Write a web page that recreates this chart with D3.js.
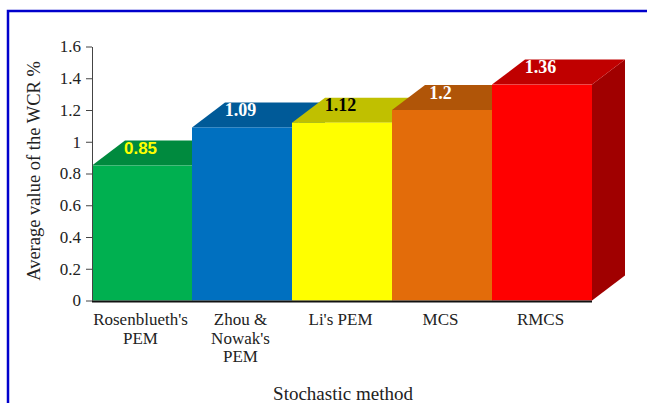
<!DOCTYPE html>
<html>
<head>
<meta charset="utf-8">
<script src="https://cdn.jsdelivr.net/npm/d3@7"></script>
<style>
  html, body { margin: 0; padding: 0; background: #fff; }
  svg { display: block; }
</style>
</head>
<body>
<div id="chart"></div>
<script>
// Average WCR per stochastic method
const categories = ["Rosenblueth's PEM", "Zhou & Nowak's PEM", "Li's PEM", "MCS", "RMCS"];
const categoryLines = [["Rosenblueth's", "PEM"], ["Zhou &", "Nowak's", "PEM"], ["Li's PEM"], ["MCS"], ["RMCS"]];
const wcrValues = [0.85, 1.09, 1.12, 1.2, 1.36];
const valueLabels = ["0.85", "1.09", "1.12", "1.2", "1.36"];
const tickValues = [0, 0.2, 0.4, 0.6, 0.8, 1, 1.2, 1.4, 1.6];
const tickLabels = ["0", "0.2", "0.4", "0.6", "0.8", "1", "1.2", "1.4", "1.6"];

// face colours: front, top, side
const frontColors = ["#00b050", "#0070c0", "#ffff00", "#e36c0a", "#ff0000"];
const topColors = ["#008a3e", "#005a98", "#c0c000", "#b05508", "#c00000"];
const sideColors = ["#007a34", "#004f86", "#a8a800", "#984a06", "#a00000"];
const labelColors = ["#ffff00", "#ffffff", "#000000", "#ffffff", "#ffffff"];

const W = 647, H = 403;
const serif = "'Liberation Serif', 'Times New Roman', serif";
const depthX = 33, depthY = 25;

const svg = d3.select("#chart").append("svg")
  .attr("width", W).attr("height", H);

// frame
svg.append("rect")
  .attr("x", 8).attr("y", 11)
  .attr("width", 800).attr("height", 600)
  .attr("fill", "none").attr("stroke", "#0000cc").attr("stroke-width", 2.5);

const x = d3.scaleBand().domain(categories).range([92, 592]).padding(0);
const y = d3.scaleLinear().domain([0, 1.6]).range([300.5, 46.5]);

const data = categories.map((c, i) => ({ c, v: wcrValues[i], i }));
const bw = x.bandwidth();

const bars = svg.append("g");
data.forEach(d => {
  const x0 = x(d.c), x1 = x0 + bw, yT = y(d.v), yB = y(0);
  const g = bars.append("g");
  // right side face
  g.append("path")
    .attr("d", `M${x1},${yT}L${x1 + depthX},${yT - depthY}L${x1 + depthX},${yB - depthY}L${x1},${yB}Z`)
    .attr("fill", sideColors[d.i]);
  // top face
  g.append("path")
    .attr("d", `M${x0},${yT}L${x1},${yT}L${x1 + depthX},${yT - depthY}L${x0 + depthX},${yT - depthY}Z`)
    .attr("fill", topColors[d.i]);
  // front face
  g.append("rect")
    .attr("x", x0).attr("y", yT)
    .attr("width", bw).attr("height", yB - yT)
    .attr("fill", frontColors[d.i]);
});

// value labels on the top faces
svg.append("g").selectAll("text").data(data).join("text")
  .attr("x", d => x(d.c) + bw / 2 - 1.5)
  .attr("y", d => y(d.v) - 11.5)
  .attr("text-anchor", "middle")
  .attr("font-family", d => d.i === 0 ? "'Liberation Sans', Arial, sans-serif" : serif)
  .attr("font-size", d => d.i === 0 ? 17 : 18)
  .attr("font-weight", "bold")
  .attr("fill", d => labelColors[d.i])
  .text(d => valueLabels[d.i]);

// baseline under the bars
svg.append("line")
  .attr("x1", 92).attr("x2", 592)
  .attr("y1", y(0) + 1).attr("y2", y(0) + 1)
  .attr("stroke", "#111").attr("stroke-width", 2);

// y axis
const yAxis = svg.append("g")
  .attr("transform", "translate(92,0)")
  .call(d3.axisLeft(y)
    .tickValues(tickValues)
    .tickFormat((d, i) => tickLabels[i])
    .tickSize(6).tickSizeOuter(0).tickPadding(5));
yAxis.attr("font-family", serif);
yAxis.select(".domain").attr("stroke", "#444");
yAxis.selectAll(".tick line").attr("stroke", "#444");
yAxis.selectAll(".tick text")
  .attr("font-family", serif).attr("font-size", 17).attr("fill", "#222");

// category labels
const catG = svg.append("g");
data.forEach(d => {
  const t = catG.append("text")
    .attr("x", x(d.c) + bw / 2 - 1.5)
    .attr("y", 325)
    .attr("text-anchor", "middle")
    .attr("font-family", serif).attr("font-size", 17).attr("fill", "#222");
  categoryLines[d.i].forEach((line, k) => {
    t.append("tspan").attr("x", x(d.c) + bw / 2 - 1.5).attr("dy", k === 0 ? 0 : 18.5).text(line);
  });
});

// axis titles
svg.append("text")
  .attr("x", 343).attr("y", 399.5)
  .attr("text-anchor", "middle")
  .attr("font-family", serif).attr("font-size", 19).attr("fill", "#222")
  .text("Stochastic method");

svg.append("text")
  .attr("transform", "translate(40,171) rotate(-90)")
  .attr("text-anchor", "middle")
  .attr("font-family", serif).attr("font-size", 18.5).attr("fill", "#222")
  .text("Average value of the WCR %");
</script>
</body>
</html>
